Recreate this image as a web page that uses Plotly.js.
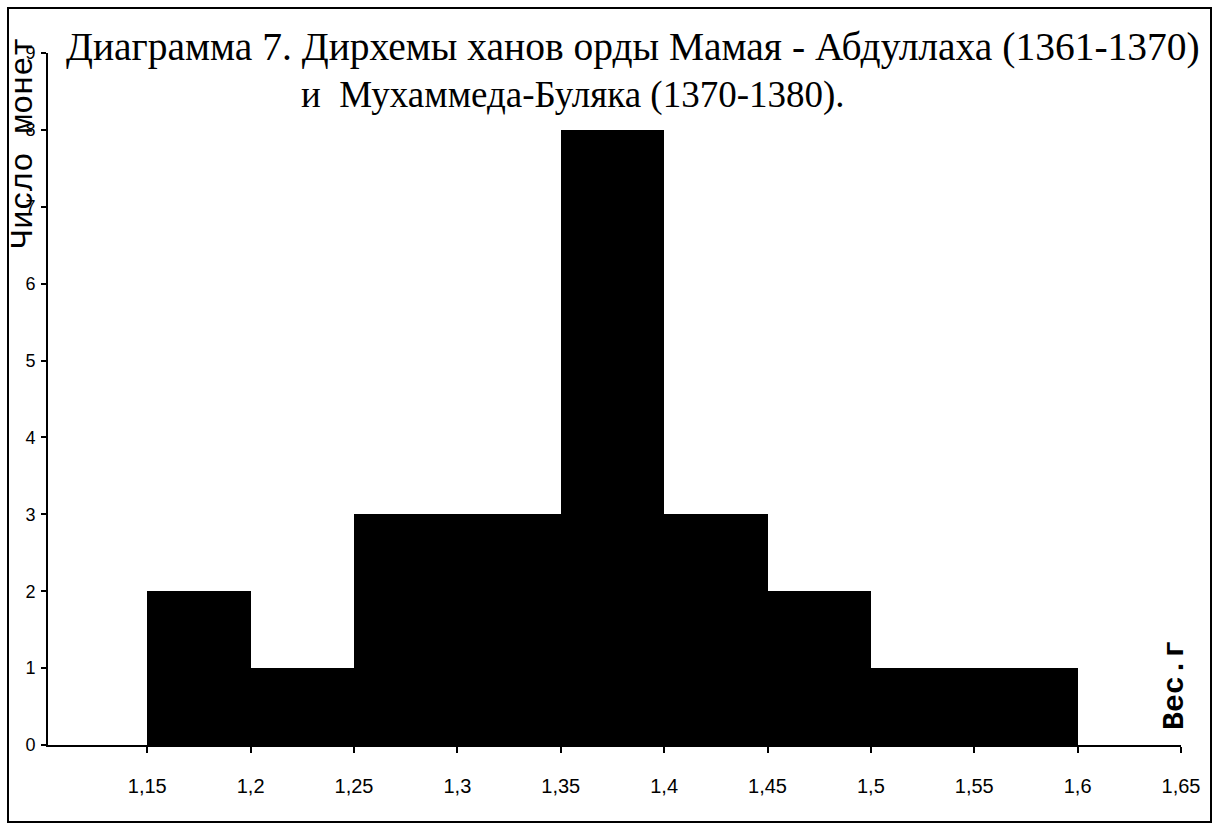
<!DOCTYPE html>
<html><head><meta charset="utf-8">
<script src="https://cdn.plot.ly/plotly-3.0.1.min.js"></script>
<style>body{margin:0;background:#fff}#c{width:1218px;height:825px}</style>
</head><body><div id="c"></div>
<script>
const binStarts = [1.15, 1.2, 1.25, 1.3, 1.35, 1.4, 1.45, 1.5, 1.55];
const binWidth = 0.05;
const counts = [2, 1, 3, 3, 8, 3, 2, 1, 1];
const xTicks = [1.15, 1.2, 1.25, 1.3, 1.35, 1.4, 1.45, 1.5, 1.55, 1.6, 1.65];
const yTicks = [0, 1, 2, 3, 4, 5, 6, 7, 8, 9];
const titleLine1 = "Диаграмма 7. Дирхемы ханов орды Мамая - Абдуллаха (1361-1370)";
const titleLine2 = "и  Мухаммеда-Буляка (1370-1380).";
const yLabel = "Число монет";
const xLabel = "Вес.г";

const W = 1218, H = 825, L = 48, R = 37, T = 53, B = 80;
const pw = W - L - R, ph = H - T - B;
const px = x => (x - L) / pw;
const py = y => (H - B - y) / ph;

const trace = {
  type: 'bar',
  x: binStarts.map(s => s + binWidth / 2),
  y: counts,
  width: binStarts.map(() => binWidth),
  marker: {color: '#000', line: {width: 0}},
  hoverinfo: 'skip'
};

const layout = {
  width: W, height: H,
  margin: {l: L, r: R, t: T, b: B},
  paper_bgcolor: '#fff', plot_bgcolor: '#fff',
  separators: ', ',
  showlegend: false,
  bargap: 0,
  xaxis: {
    range: [1.102, 1.65],
    tickvals: xTicks,
    ticktext: xTicks.map(v => String(v).replace('.', ',')),
    showgrid: false, zeroline: false,
    showline: true, linecolor: '#000', linewidth: 2,
    ticks: 'outside', ticklen: 6, tickwidth: 2, tickcolor: '#000',
    tickfont: {family: 'Liberation Sans, Arial', size: 20, color: '#000'},
    ticklabelstandoff: 16
  },
  yaxis: {
    range: [0, 9],
    tickvals: yTicks,
    showgrid: false, zeroline: false,
    showline: true, linecolor: '#000', linewidth: 2,
    ticks: 'outside', ticklen: 5, tickwidth: 2, tickcolor: '#000',
    tickfont: {family: 'Liberation Sans, Arial', size: 18, color: '#000'},
    ticklabelstandoff: 2
  },
  annotations: [
    {xref: 'paper', yref: 'paper', x: px(64), y: py(47), xanchor: 'left', yanchor: 'middle',
     text: titleLine1, showarrow: false,
     font: {family: 'Liberation Serif, Times New Roman', size: 39.5, color: '#000'}},
    {xref: 'paper', yref: 'paper', x: px(299), y: py(95), xanchor: 'left', yanchor: 'middle',
     text: titleLine2, showarrow: false,
     font: {family: 'Liberation Serif, Times New Roman', size: 37, color: '#000'}},
    {xref: 'paper', yref: 'paper', x: px(23), y: py(36), xanchor: 'center', yanchor: 'top',
     text: yLabel, showarrow: false, textangle: -90,
     font: {family: 'Liberation Mono, Courier New', size: 32, color: '#000'}},
    {xref: 'paper', yref: 'paper', x: px(1175), y: py(732), xanchor: 'center', yanchor: 'bottom',
     text: '<b>' + xLabel + '</b>', showarrow: false, textangle: -90,
     font: {family: 'Liberation Mono, Courier New', size: 30, color: '#000'}}
  ],
  shapes: [
    {type: 'rect', xref: 'paper', yref: 'paper', x0: px(8), x1: px(1211), y0: py(8), y1: py(822),
     line: {color: '#000', width: 2}, fillcolor: 'rgba(0,0,0,0)', layer: 'above'}
  ]
};

Plotly.newPlot('c', [trace], layout, {staticPlot: true, displayModeBar: false});
</script></body></html>
